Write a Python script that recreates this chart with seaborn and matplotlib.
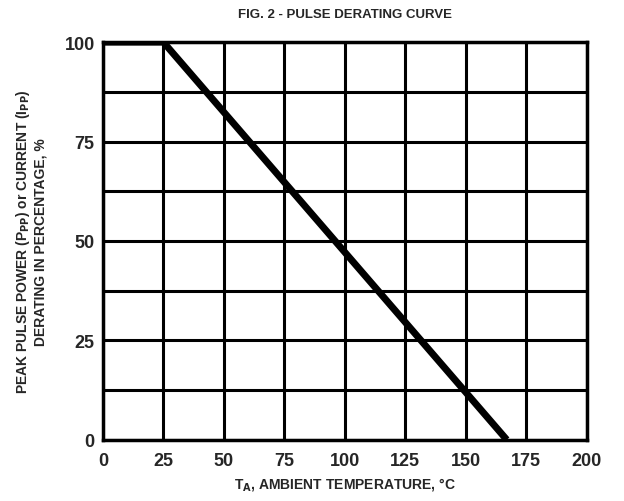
import pandas as pd
import matplotlib
matplotlib.use("Agg")
import matplotlib.pyplot as plt
import seaborn as sns

# derating curve
temp_c = [0, 25, 167]
derating_pct = [100, 100, 0]

x_ticks = [0, 25, 50, 75, 100, 125, 150, 175, 200]
y_ticks = [0, 25, 50, 75, 100]

df = pd.DataFrame({"temp": temp_c, "pct": derating_pct})

sns.set_theme(style="white")
plt.rcParams["font.family"] = ["Liberation Sans", "DejaVu Sans"]
plt.rcParams["font.weight"] = "bold"

fig = plt.figure(figsize=(6.24, 5.02), dpi=100)
ax = fig.add_axes([0.165, 0.122, 0.775, 0.792])

sns.lineplot(data=df, x="temp", y="pct", color="black", linewidth=5, ax=ax,
             solid_capstyle="butt", zorder=3)

ax.set_xlim(0, 200)
ax.set_ylim(0, 100)
ax.set_xticks(range(0, 201, 25))
ax.set_yticks([v * 12.5 for v in range(9)])
ax.grid(True, color="black", linewidth=2.2)
ax.set_axisbelow(True)
for s in ax.spines.values():
    s.set_color("black")
    s.set_linewidth(2.5)

ax.set_xticklabels([str(v) for v in x_ticks], fontsize=13, fontweight="bold")
ax.set_yticklabels([str(int(v)) if v % 25 == 0 else "" for v in ax.get_yticks()],
                   fontsize=13, fontweight="bold")
ax.tick_params(axis="x", length=0, pad=9)
ax.tick_params(axis="y", length=0, pad=6)

ax.set_title("FIG. 2 - PULSE DERATING CURVE", fontsize=9.5, fontweight="heavy", pad=18)
ax.set_xlabel("T$_\\mathbf{A}$, AMBIENT TEMPERATURE, °C", fontsize=10, fontweight="bold",
              labelpad=4)
ax.set_ylabel("PEAK PULSE POWER (P$_\\mathbf{PP}$) or CURRENT (I$_\\mathbf{PP}$)\n"
              "DERATING IN PERCENTAGE, %", fontsize=10, fontweight="bold", labelpad=12)

plt.savefig("out.png", dpi=100)
